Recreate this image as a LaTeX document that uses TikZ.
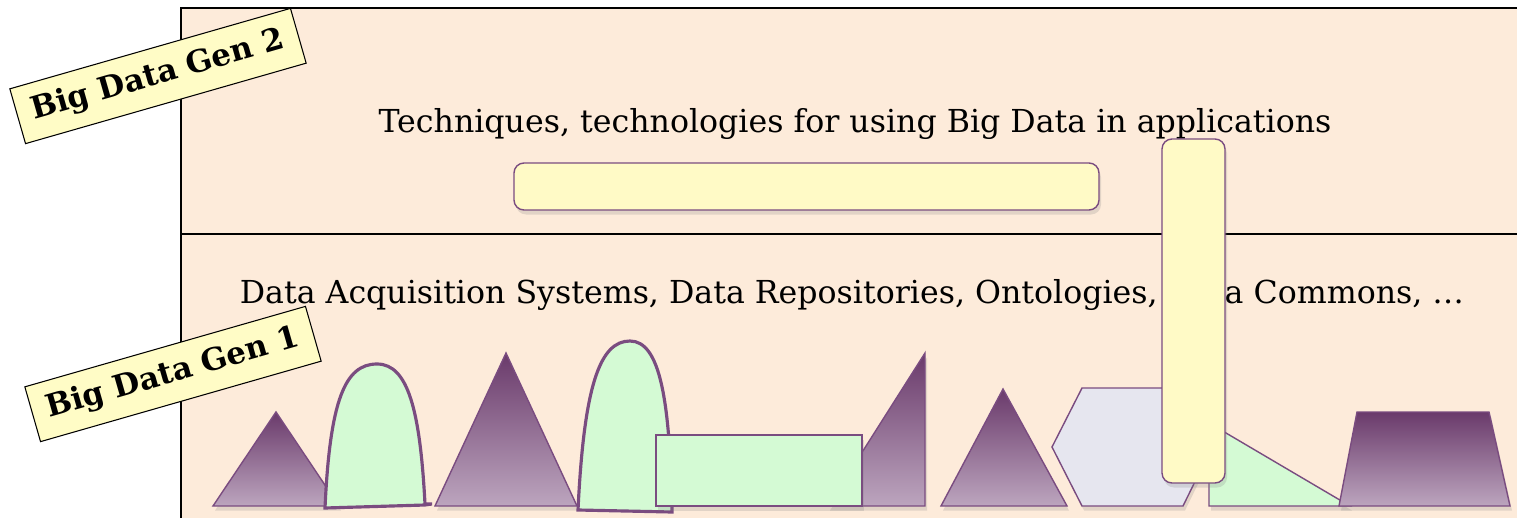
\documentclass[tikz,border=0pt]{standalone}
\usepackage{fontspec}
\setmainfont{DejaVu Serif}
\usetikzlibrary{shadows}

\definecolor{peach}{HTML}{FDEBDA}
\definecolor{cream}{HTML}{FFFAC6}
\definecolor{tagyellow}{HTML}{FFFCC6}
\definecolor{mint}{HTML}{D4FAD4}
\definecolor{lavender}{HTML}{E6E6EF}
\definecolor{edge}{HTML}{7A4C80}
\definecolor{plumtop}{HTML}{6A3A6B}
\definecolor{plumbot}{HTML}{BCA5BE}

\begin{document}
\begin{tikzpicture}[x=0.02cm, y=-0.02cm,
  every node/.style={font=\fontsize{18}{21}\selectfont},
  softshadow/.style={drop shadow={opacity=0.22, shadow xshift=0.4mm, shadow yshift=-0.9mm}},
  plumfill/.style={draw=edge, line width=0.8pt, top color=plumtop, bottom color=plumbot, softshadow},
  greenfill/.style={draw=edge, fill=mint, line width=0.8pt, softshadow},
  archfill/.style={draw=edge, fill=mint, line width=1.8pt},
  barbox/.style={draw=edge, fill=cream, line width=0.8pt, rounded corners=0.2cm, softshadow},
  genlabel/.style={draw=black, fill=tagyellow, line width=0.6pt, rotate=16,
    minimum width=5.84cm, minimum height=1.14cm,
    font=\bfseries\fontsize{17.5}{20}\selectfont}]
\clip (0,0) rectangle (1517,517);

% the two layers
\draw[fill=peach, line width=1.1pt] (181,8) rectangle (1540,540);
\draw[line width=1.1pt] (181,234) -- (1540,234);

\node (apps) at (855,124) {Techniques, technologies for using Big Data in applications};
\node (infra) at (852,295) {Data Acquisition Systems, Data Repositories, Ontologies, Data Commons, …};

\draw[barbox] (514,163) rectangle (1099,210);

% shapes along the bottom
\draw[plumfill] (213,506) -- (276,412) -- (339,506) -- cycle;
\draw[archfill] (325,508) .. controls (330,400) and (345,364) .. (377,364)
  .. controls (408,364) and (420,410) .. (425,504) -- (432,504) -- (425,505) -- cycle;
\draw[plumfill] (435,506) -- (506,353) -- (577,506) -- cycle;
\draw[archfill] (578,510) .. controls (584,385) and (600,341) .. (630,341)
  .. controls (660,341) and (670,400) .. (672,512) -- cycle;
\draw[plumfill] (828,506) -- (925,353) -- (925,506) -- cycle;
\draw[greenfill] (656,435) rectangle (862,506);
\draw[plumfill] (941,506) -- (1003,389) -- (1067,506) -- cycle;
\draw[draw=edge, fill=lavender, line width=0.8pt, softshadow]
  (1052,447) -- (1082,388) -- (1183,388) -- (1212,447) -- (1183,506) -- (1082,506) -- cycle;
\draw[greenfill] (1209,423) -- (1350,506) -- (1209,506) -- cycle;
\draw[plumfill] (1339,506) -- (1357,412) -- (1489,412) -- (1510,506) -- cycle;

\draw[barbox] (1162,139) rectangle (1225,483);

% generation tags
\node[genlabel] (gen2) at (158,76) {Big Data Gen 2};
\node[genlabel] (gen1) at (173,374) {Big Data Gen 1};
\end{tikzpicture}
\end{document}
